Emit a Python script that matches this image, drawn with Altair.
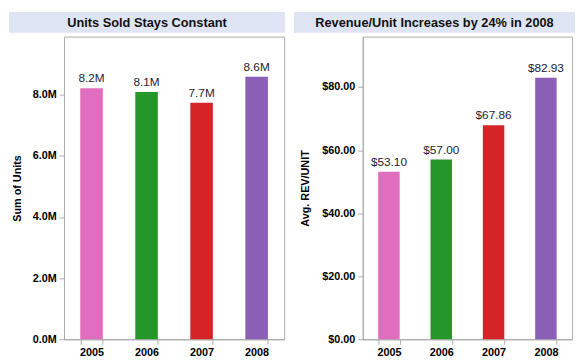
import altair as alt
import pandas as pd

# ---- data ----
years = ["2005", "2006", "2007", "2008"]
units = [8.21e6, 8.09e6, 7.74e6, 8.59e6]
rev_per_unit = [53.10, 57.00, 67.86, 82.93]
colors = ["#e06dbd", "#24962a", "#d42426", "#8c5fb6"]
titles = ["Units Sold Stays Constant", "Revenue/Unit Increases by 24% in 2008"]
unit_ticks = [0, 2e6, 4e6, 6e6, 8e6]
rev_ticks = [0, 20, 40, 60, 80]

df = pd.DataFrame({"year": years, "units": units, "rev": rev_per_unit})

FONT = "Liberation Sans"
GRAY = "#aaaaaa"
BAND = "#dfe4f5"
PLOT_H = 308


def xenc():
    return alt.X(
        "year:N",
        title=None,
        sort=years,
        scale=alt.Scale(paddingInner=0.59, paddingOuter=0.295),
        axis=alt.Axis(
            labelAngle=0, tickBand="extent", labelFont=FONT, labelFontSize=11,
            labelFontWeight="bold", labelColor="#000", tickColor=GRAY,
            domainColor=GRAY, tickSize=5, labelPadding=3,
        ),
    )


color = alt.Color("year:N", scale=alt.Scale(domain=years, range=colors), legend=None)


def header(text, left, w, right):
    d = alt.Chart(pd.DataFrame({"t": [text]}))
    band = d.mark_rect(color=BAND).encode(
        x=alt.value(-left), x2=alt.value(w + right),
        y=alt.value(-25), y2=alt.value(-4))
    lab = d.mark_text(font=FONT, fontSize=13, fontWeight="bold", color="#111",
                      align="center", baseline="middle").encode(
        x=alt.value((w + right - left) / 2), y=alt.value(-14), text="t:N")
    return band + lab


def yaxis(values, expr=None, fmt=None, tpad=14):
    kw = dict(values=values, grid=False, labelFont=FONT, labelFontSize=11,
              labelFontWeight="bold", labelColor="#000", tickColor=GRAY,
              domainColor=GRAY, tickSize=5, labelPadding=3, titleFont=FONT,
              titleFontSize=11, titleFontWeight="bold", titleColor="#000",
              titlePadding=tpad)
    if expr:
        kw["labelExpr"] = expr
    if fmt:
        kw["format"] = fmt
    return alt.Axis(**kw)


# ---- left panel ----
WL = 224
base_l = alt.Chart(df).encode(
    x=xenc(),
    y=alt.Y("units:Q", title="Sum of Units",
            scale=alt.Scale(domain=[0, 9.9e6], nice=False),
            axis=yaxis(unit_ticks, expr="format(datum.value/1e6,'.1f')+'M'", tpad=10)),
)
bars_l = base_l.mark_bar().encode(color=color)
text_l = base_l.transform_calculate(
    lab="format(datum.units/1e6,'.1f')+'M'"
).mark_text(dy=-3, baseline="bottom", font=FONT, fontSize=12, color="#1c2233").encode(
    text="lab:N")
plot_l = alt.layer(header(titles[0], 56, WL, 1), bars_l, text_l).properties(
    width=WL, height=PLOT_H, view=alt.ViewBackground(stroke=GRAY))

# ---- right panel ----
WR = 213
base_r = alt.Chart(df).encode(
    x=xenc(),
    y=alt.Y("rev:Q", title="Avg. REV/UNIT",
            scale=alt.Scale(domain=[0, 96], nice=False),
            axis=yaxis(rev_ticks, fmt="$,.2f", tpad=12)),
)
bars_r = base_r.mark_bar().encode(color=color)
text_r = base_r.mark_text(dy=-3, baseline="bottom", font=FONT, fontSize=12,
                          color="#1c2233").encode(text=alt.Text("rev:Q", format="$.2f"))
plot_r = alt.layer(header(titles[1], 70, WR, 3), bars_r, text_r).properties(
    width=WR, height=PLOT_H, view=alt.ViewBackground(stroke=GRAY))

chart = (
    alt.hconcat(plot_l, plot_r, spacing=7)
    .properties(padding=0, background="white")
    .configure_view(strokeWidth=1)
)

chart.save("out.html", embed_options={"renderer": "svg", "actions": False})
